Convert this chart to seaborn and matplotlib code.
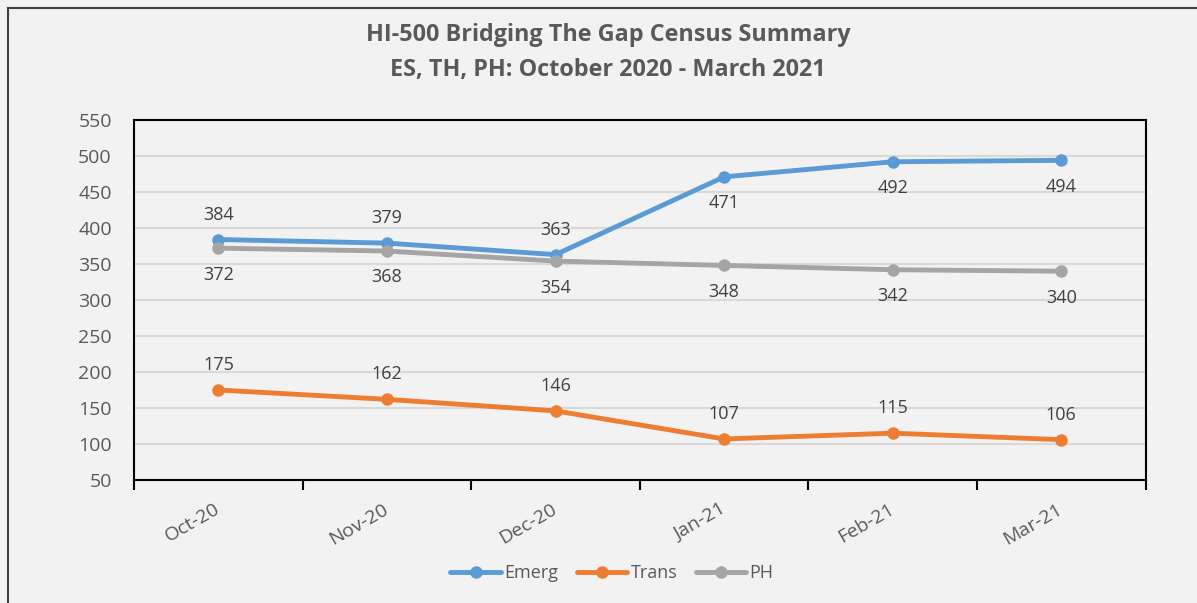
import seaborn as sns
import pandas as pd
import matplotlib.pyplot as plt
from matplotlib.patches import Rectangle

months = ['Oct-20', 'Nov-20', 'Dec-20', 'Jan-21', 'Feb-21', 'Mar-21']
emerg = [384, 379, 363, 471, 492, 494]
trans = [175, 162, 146, 107, 115, 106]
ph = [372, 368, 354, 348, 342, 340]
yticks = [50, 100, 150, 200, 250, 300, 350, 400, 450, 500, 550]

series = {'Emerg': emerg, 'Trans': trans, 'PH': ph}
colors = {'Emerg': '#5B9BD5', 'Trans': '#ED7D31', 'PH': '#A5A5A5'}

rows = []
for name, vals in series.items():
    for i, v in enumerate(vals):
        rows.append({'month': i, 'label': months[i], 'value': v, 'series': name})
df = pd.DataFrame(rows)

sns.set_theme(style='white')
plt.rcParams['font.family'] = ['Open Sans', 'DejaVu Sans']
bg = '#F2F2F2'
txt = '#595959'

fig = plt.figure(figsize=(11.97, 6.03), dpi=100, facecolor=bg)
ax = fig.add_axes([0.112, 0.204, 0.845, 0.597])
ax.set_facecolor(bg)

sns.lineplot(data=df, x='month', y='value', hue='series', palette=colors,
             marker='o', markersize=9, markeredgewidth=0, linewidth=3.5,
             ax=ax, legend=True)

# data labels: below for PH and for Emerg from Jan-21 on
for name, vals in series.items():
    for i, v in enumerate(vals):
        below = name == 'PH' or (name == 'Emerg' and i >= 3)
        off = -19 if below else 18
        ax.annotate(str(v), (i, v), xytext=(0, off), textcoords='offset points',
                    ha='center', va='center', fontsize=13, color='#404040')

ax.set_xlim(-0.5, 5.5)
ax.set_ylim(50, 550)
ax.set_yticks(yticks)
ax.set_xticks([i + 0.5 for i in range(-1, 6)], minor=False)
ax.set_xticklabels([])
ax.set_xticks(range(6), minor=True)
ax.set_xticklabels(months, minor=True, rotation=30, fontsize=14, color=txt,
                   ha='right', va='center', rotation_mode='anchor')
ax.tick_params(axis='x', which='major', length=7, width=1.5, color='black', direction='out', bottom=True)
ax.tick_params(axis='x', which='minor', length=0, pad=20)
ax.tick_params(axis='y', length=0, labelsize=14, labelcolor=txt, pad=16)
ax.grid(axis='y', color='#D9D9D9', linewidth=1.5)
ax.set_axisbelow(True)
for s in ax.spines.values():
    s.set_color('black')
    s.set_linewidth(1.5)
ax.set_xlabel('')
ax.set_ylabel('')

handles = ax.get_legend().legend_handles
ax.get_legend().remove()
fig.legend(handles=handles, labels=list(series.keys()),
           loc='center', bbox_to_anchor=(612 / 1197, 1 - 573 / 603), ncol=3, frameon=False,
           fontsize=13, labelcolor=txt, handlelength=2.8, handletextpad=0.2, columnspacing=1.0)

fig.text(0.508, 0.942, 'HI-500 Bridging The Gap Census Summary', ha='center', va='center',
         fontsize=16.8, fontweight='bold', color=txt)
fig.text(0.508, 0.884, 'ES, TH, PH: October 2020 - March 2021', ha='center', va='center',
         fontsize=16.8, fontweight='bold', color=txt)

fig.patches.append(Rectangle((8 / 1197, -0.01), 1.2, 1 - 8 / 603 + 0.01, transform=fig.transFigure,
                             fill=False, edgecolor='#404040', linewidth=1.5))

fig.savefig('out.png', dpi=100, facecolor=bg)
